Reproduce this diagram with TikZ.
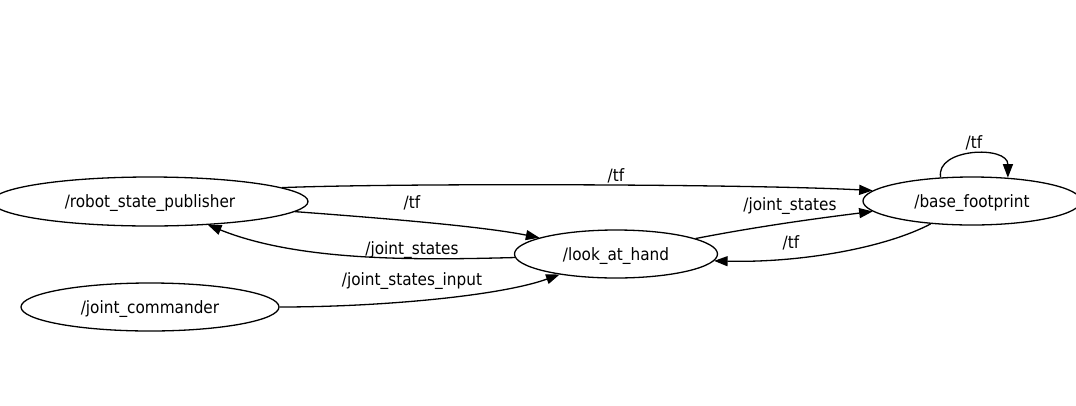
\documentclass[tikz,border=0pt]{standalone}
\usepackage{fontspec}
\setmainfont{DejaVu Sans Condensed}
\usetikzlibrary{shapes.geometric,arrows.meta}
\begin{document}
\begin{tikzpicture}[x=1pt,y=-1pt,
  every node/.style={font=\fontsize{17}{19}\selectfont},
  topic/.style={draw,ellipse,line width=1.3pt,inner sep=0pt,text height=12.5pt,text depth=0pt},
  lbl/.style={inner sep=0pt,yshift=-1.2pt},
  edge/.style={line width=1.3pt,-{Triangle[length=13.5pt,width=10pt]}}]
\useasboundingbox (0,0) rectangle (1076,405);
\node[topic,minimum width=316pt,minimum height=49pt] (rsp) at (150,201.5) {/robot\_state\_publisher};
\node[topic,minimum width=258pt,minimum height=48pt] (jc) at (150,307) {/joint\_commander};
\node[topic,minimum width=203pt,minimum height=48pt] (lah) at (616,254) {/look\_at\_hand};
\node[topic,minimum width=218pt,minimum height=48pt] (bf) at (972,201) {/base\_footprint};
% labels
\node[lbl] (l1) at (616,175) {/tf};
\node[lbl] (l2) at (412,202) {/tf};
\node[lbl] (l3) at (412,249) {/joint\_states};
\node[lbl] (l4) at (412,280) {/joint\_states\_input};
\node[lbl] (l5) at (790,205) {/joint\_states};
\node[lbl] (l6) at (791,242) {/tf};
\node[lbl] (l7) at (974,142) {/tf};
% edges
\draw[edge] (rsp.6) .. controls (400,183) and (750,184) .. (bf.174);
\draw[edge] (rsp.-4) .. controls (380,218) and (480,226) .. (lah.168);
\draw[edge] (lah.182) .. controls (420,260) and (300,262) .. (rsp.-22);
\draw[edge] (jc.east) .. controls (380,307) and (500,296) .. (lah.200);
\draw[edge] (lah.11) .. controls (760,226) and (820,218) .. (bf.186);
\draw[edge] (bf.209) .. controls (885,248) and (800,263) .. (lah.-4);
\draw[edge] (bf.143) .. controls (935,148) and (1008,145) .. (bf.33);
\end{tikzpicture}
\end{document}
